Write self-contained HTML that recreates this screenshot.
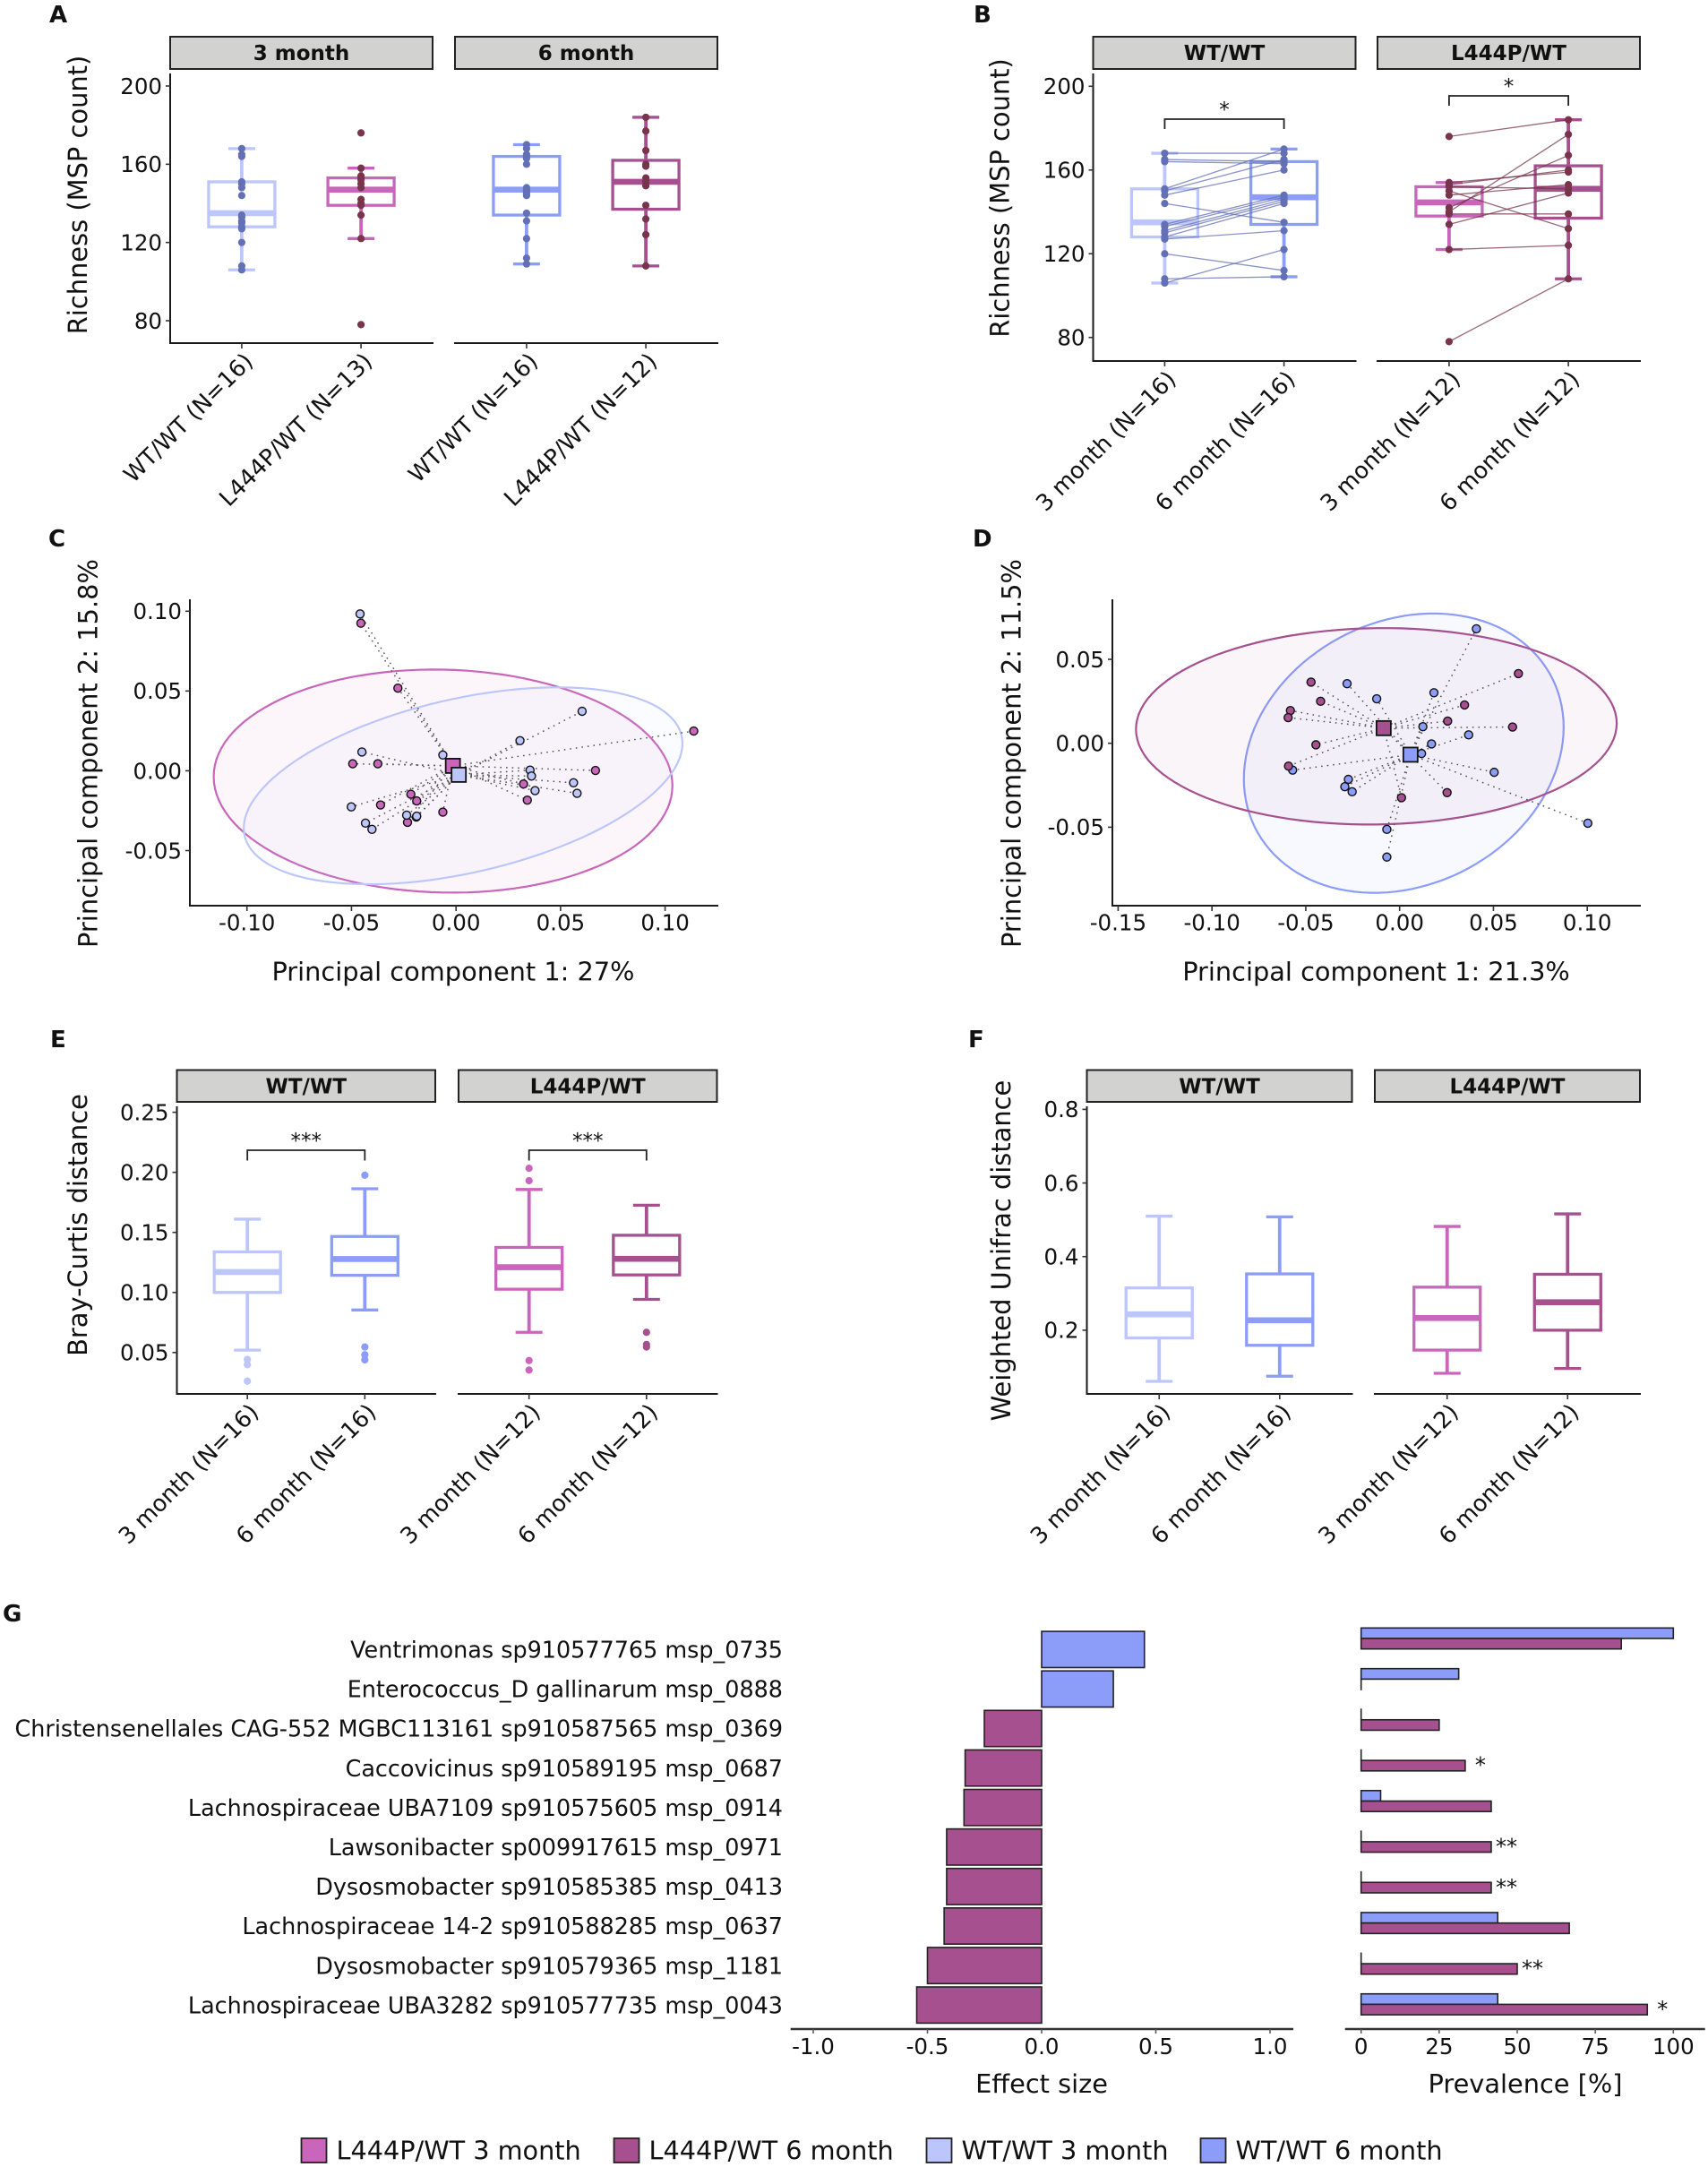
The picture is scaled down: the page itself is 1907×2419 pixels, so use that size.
<!DOCTYPE html>
<html lang="en">
<head>
<meta charset="utf-8">
<title>Gut microbiome richness, beta diversity and differential species</title>
<style>
html,body{margin:0;padding:0;background:#fff;}
svg{display:block;}
text{font-family:"DejaVu Sans","Liberation Sans",sans-serif;fill:#111;}
</style>
</head>
<body>
<svg id="figure" xmlns="http://www.w3.org/2000/svg" width="1907" height="2419" viewBox="0 0 1907 2419">
<rect x="0" y="0" width="1907" height="2419" fill="#ffffff"></rect>
</svg>
<script>
// ---------- shared colours ----------
const colWT3 = '#BDC6FB', colWT6 = '#8C9DF9', colL3 = '#C966BB', colL6 = '#A65090';
const dotWT = '#6470B5', dotL = '#78344A';

// ---------- richness data (panels A, B) ----------
const richnessTicks = [80, 120, 160, 200];
const wt3Richness = [168, 165, 164, 151, 150, 148, 144, 134, 133, 131, 130, 128, 127, 120, 108, 106];
const wt6Richness = [168, 164, 163, 170, 165, 160, 135, 148, 147, 146, 145, 144, 131, 112, 109, 122];
const l3RichnessAll = [176, 158, 154, 153, 152, 150, 148, 142, 140, 139, 134, 122, 78];
const l3RichnessPaired = [176, 154, 153, 152, 150, 148, 142, 140, 139, 134, 122, 78];
const l6Richness = [184, 159, 160, 151, 132, 153, 167, 177, 139, 149, 124, 108];
// boxes: low whisker, q1, median, q3, high whisker
const wt3RichBox = [106, 128, 135, 151, 168];
const wt6RichBox = [109, 134, 147, 164, 170];
const l3RichBoxA = [122, 139, 147, 153, 158];
const l3RichBoxB = [122, 138, 144.5, 152, 154];
const l6RichBox = [108, 137, 151, 162, 184];

// ---------- PCoA data (panels C, D) ----------
const cTicksX = [-0.10, -0.05, 0, 0.05, 0.10];
const cTicksY = [-0.05, 0, 0.05, 0.10];
const cTickLabelsX = ['-0.10', '-0.05', '0.00', '0.05', '0.10'];
const cTickLabelsY = ['-0.05', '0.00', '0.05', '0.10'];
const cWTx = [-0.0459, -0.0450, -0.0063, 0.0306, 0.0603, 0.0354, 0.0361, 0.0378, 0.0562, 0.0579, -0.0501, -0.0433, -0.0402, -0.0236, -0.0190, -0.0188];
const cWTy = [0.0983, 0.0118, 0.0099, 0.0189, 0.0373, 0.0004, -0.0033, -0.0124, -0.0075, -0.0141, -0.0226, -0.0328, -0.0367, -0.0278, -0.0290, -0.0284];
const cLx = [-0.0455, -0.0278, -0.0494, -0.0374, 0.1137, 0.0667, 0.0323, 0.0341, -0.0216, -0.0188, -0.0361, -0.0063, -0.0232];
const cLy = [0.0925, 0.0518, 0.0044, 0.0044, 0.0249, 0.0002, -0.0083, -0.0184, -0.0147, -0.0189, -0.0214, -0.0259, -0.0323];
const cCentroidWT = [0.0013, -0.0025];
const cCentroidL = [-0.0015, 0.0031];
const cEllipseWT = [0.0034, -0.0094, 0.1049, 0.0617, 0.43];
const cEllipseL = [-0.0062, -0.00645, 0.1097, 0.0699, -0.04];

const dTicksX = [-0.15, -0.10, -0.05, 0, 0.05, 0.10];
const dTicksY = [-0.05, 0, 0.05];
const dTickLabelsX = ['-0.15', '-0.10', '-0.05', '0.00', '0.05', '0.10'];
const dTickLabelsY = ['-0.05', '0.00', '0.05'];
const dWTx = [0.0409, -0.0280, -0.0122, 0.0183, 0.0124, 0.0368, 0.0170, 0.0117, 0.0504, 0.1003, -0.0570, -0.0273, -0.0292, -0.0253, -0.0068, -0.0068];
const dWTy = [0.0682, 0.0355, 0.0265, 0.0301, 0.0099, 0.0050, -0.0004, -0.0061, -0.0173, -0.0476, -0.0160, -0.0215, -0.0259, -0.0289, -0.0513, -0.0678];
const dLx = [-0.0472, -0.0421, -0.0582, -0.0594, -0.0446, -0.0592, 0.0633, 0.0346, 0.0256, 0.0602, 0.0253, 0.0010];
const dLy = [0.0364, 0.0250, 0.0195, 0.0153, -0.0009, -0.0136, 0.0415, 0.0228, 0.0132, 0.0097, -0.0294, -0.0324];
const dCentroidWT = [0.0058, -0.0068];
const dCentroidL = [-0.0085, 0.0090];
const dEllipseWT = [0.0022, -0.0059, 0.0852, 0.0832, 0.185];
const dEllipseL = [-0.0124, 0.0101, 0.1281, 0.0585, 0.03];

// ---------- distance data (panels E, F) ----------
const eTicks = [0.05, 0.10, 0.15, 0.20, 0.25];
const eTickLabels = ['0.05', '0.10', '0.15', '0.20', '0.25'];
const eWT3Box = [0.052, 0.100, 0.117, 0.1338, 0.161];
const eWT6Box = [0.0854, 0.1143, 0.1278, 0.1466, 0.1863];
const eL3Box = [0.0668, 0.1027, 0.121, 0.1375, 0.1857];
const eL6Box = [0.0942, 0.1146, 0.128, 0.1476, 0.1726];
const eWT3Out = [0.0442, 0.0399, 0.0262];
const eWT6Out = [0.1976, 0.0546, 0.0482, 0.0439];
const eL3Out = [0.2034, 0.193, 0.0433, 0.0354];
const eL6Out = [0.0668, 0.0567, 0.0546];

const fTicks = [0.2, 0.4, 0.6, 0.8];
const fTickLabels = ['0.2', '0.4', '0.6', '0.8'];
const fWT3Box = [0.061, 0.179, 0.243, 0.315, 0.51];
const fWT6Box = [0.075, 0.159, 0.227, 0.353, 0.508];
const fL3Box = [0.083, 0.146, 0.233, 0.317, 0.482];
const fL6Box = [0.096, 0.2, 0.276, 0.352, 0.516];

// ---------- species data (panel G) ----------
const speciesLabels = [
  'Ventrimonas sp910577765 msp_0735',
  'Enterococcus_D gallinarum msp_0888',
  'Christensenellales CAG-552 MGBC113161 sp910587565 msp_0369',
  'Caccovicinus sp910589195 msp_0687',
  'Lachnospiraceae UBA7109 sp910575605 msp_0914',
  'Lawsonibacter sp009917615 msp_0971',
  'Dysosmobacter sp910585385 msp_0413',
  'Lachnospiraceae 14-2 sp910588285 msp_0637',
  'Dysosmobacter sp910579365 msp_1181',
  'Lachnospiraceae UBA3282 sp910577735 msp_0043'
];
const effectSizes = [0.45, 0.314, -0.251, -0.335, -0.34, -0.416, -0.416, -0.427, -0.5, -0.547];
const prevalenceWT = [100, 31.25, 0, 0, 6.25, 0, 0, 43.75, 0, 43.75];
const prevalenceL = [83.33, 0, 25, 33.33, 41.67, 41.67, 41.67, 66.67, 50, 91.67];
const prevalenceStars = ['', '', '', '*', '', '**', '**', '', '**', '*'];
const effectTicks = [-1, -0.5, 0, 0.5, 1];
const effectTickLabels = ['-1.0', '-0.5', '0.0', '0.5', '1.0'];
const prevalenceTicks = [0, 25, 50, 75, 100];

// ---------- helpers ----------
const NS = 'http://www.w3.org/2000/svg';
const root = document.getElementById('figure');
function mk(tag, attrs, parent) {
  const el = document.createElementNS(NS, tag);
  for (const k in attrs) el.setAttribute(k, attrs[k]);
  (parent || root).appendChild(el);
  return el;
}
function linear(d0, d1, r0, r1) {
  return function (v) { return r0 + (v - d0) * (r1 - r0) / (d1 - d0); };
}
function text(str, x, y, size, attrs, parent) {
  const a = Object.assign({ x: x, y: y, 'font-size': size }, attrs || {});
  const el = mk('text', a, parent);
  el.textContent = str;
  return el;
}
function centeredY(y, size) { return y + size * 0.36; }

function panelLetter(str, x, y) {
  const el = text(str, x, y, 26, { 'font-weight': 'bold', fill: '#000' });
  
  
}
function yTitle(str, x, y) {
  const el = text(str, x, y, 28.9, { 'text-anchor': 'middle', transform: 'rotate(-90 ' + x + ' ' + y + ')', 'dominant-baseline': 'central', fill: '#111' });
  
  
}
function xTitle(str, x, y) {
  const el = text(str, x, y, 28.8, { 'text-anchor': 'middle', 'dominant-baseline': 'central', fill: '#111' });
  
  
}
function yTicks(ticks, labels, yS, axisX) {
  ticks.forEach(function (t, i) {
    const tick = mk('line', { x1: axisX - 5, x2: axisX, y1: yS(t), y2: yS(t), stroke: '#333', 'stroke-width': 1.6 });
    
    
    const lab = text(labels[i], axisX - 9, centeredY(yS(t), 24.5), 24.5, { 'text-anchor': 'end', fill: '#111' });
    
    
  });
}
function axisLine(x1, y1, x2, y2, name) {
  const l = mk('line', { x1: x1, y1: y1, x2: x2, y2: y2, stroke: '#1a1a1a', 'stroke-width': 2, 'stroke-linecap': 'square' });
  
  
}

// draws strip header, x axis, tick labels; returns category x function
function facet(f) {
  const r = mk('rect', { x: f.x0, y: f.stripTop, width: f.x1 - f.x0, height: f.stripBottom - f.stripTop, fill: '#D2D3D1', stroke: '#222', 'stroke-width': 2 });
  
  
  const s = text(f.title, (f.x0 + f.x1) / 2, (f.stripTop + f.stripBottom) / 2 + 8, 23, { 'text-anchor': 'middle', 'font-weight': 'bold', fill: '#000' });
  
  
  axisLine(f.x0, f.axisBottom, f.x1, f.axisBottom, 'x-axis-line');
  const unit = (f.x1 - f.x0) / 2.2;
  const xc = function (i) { return f.x0 + unit * (i + 0.6); };
  f.labels.forEach(function (lab, i) {
    const t = mk('line', { x1: xc(i), x2: xc(i), y1: f.axisBottom, y2: f.axisBottom + 6, stroke: '#333', 'stroke-width': 1.6 });
    
    
    const ax = xc(i) + 14, ay = f.axisBottom + 22;
    const tl = text(lab, ax, ay, 25.5, { 'text-anchor': 'end', transform: 'rotate(-45 ' + ax + ' ' + ay + ')', fill: '#111' });
    
    
  });
  return xc;
}
function boxplot(stats, cx, yS, color, name) {
  const g = mk('g', {});
  
  
  const w = 74, cap = 30, sw = 3.3;
  const low = stats[0], q1 = stats[1], med = stats[2], q3 = stats[3], high = stats[4];
  const wh1 = mk('line', { x1: cx, x2: cx, y1: yS(high), y2: yS(q3), stroke: color, 'stroke-width': 3.8 }, g);
  
  
  const wh2 = mk('line', { x1: cx, x2: cx, y1: yS(q1), y2: yS(low), stroke: color, 'stroke-width': 3.8 }, g);
  
  
  const c1 = mk('line', { x1: cx - cap / 2, x2: cx + cap / 2, y1: yS(high), y2: yS(high), stroke: color, 'stroke-width': sw }, g);
  
  
  const c2 = mk('line', { x1: cx - cap / 2, x2: cx + cap / 2, y1: yS(low), y2: yS(low), stroke: color, 'stroke-width': sw }, g);
  
  
  const b = mk('rect', { x: cx - w / 2, y: yS(q3), width: w, height: yS(q1) - yS(q3), fill: 'none', stroke: color, 'stroke-width': sw }, g);
  
  
  const m = mk('line', { x1: cx - w / 2, x2: cx + w / 2, y1: yS(med), y2: yS(med), stroke: color, 'stroke-width': 6.6 }, g);
  
  
}
function dots(values, cx, yS, color, r, name) {
  values.forEach(function (v) {
    const d = mk('ellipse', { cx: cx, cy: yS(v), rx: r, ry: r, fill: color });
    
    
  });
}
function pairLines(a, b, x0, x1, yS, color, name) {
  a.forEach(function (v, i) {
    const l = mk('line', { x1: x0, x2: x1, y1: yS(v), y2: yS(b[i]), stroke: color, 'stroke-width': 1.3, opacity: 0.75 });
    
    
  });
}
function bracket(x0, x1, yTop, yBot, stars) {
  const p = mk('path', { d: 'M' + x0 + ' ' + yBot + 'V' + yTop + 'H' + x1 + 'V' + yBot, fill: 'none', stroke: '#222', 'stroke-width': 1.8 });
  
  
  const t = text(stars, (x0 + x1) / 2, yTop - 3, 23, { 'text-anchor': 'middle', fill: '#111' });
  
  
}
function ellipsePath(e, xS, yS) {
  const cx = e[0], cy = e[1], rx = e[2], ry = e[3], rho = e[4];
  const q = Math.sqrt(1 - rho * rho);
  let d = '';
  for (let k = 0; k <= 120; k++) {
    const t = k / 120 * 2 * Math.PI;
    const px = xS(cx + rx * Math.cos(t));
    const py = yS(cy + ry * (rho * Math.cos(t) + q * Math.sin(t)));
    d += (k ? 'L' : 'M') + px.toFixed(1) + ' ' + py.toFixed(1);
  }
  return d + 'Z';
}
function pcoa(p) {
  axisLine(p.left, p.top, p.left, p.bottom, 'y-axis-line');
  axisLine(p.left, p.bottom, p.right, p.bottom, 'x-axis-line');
  yTicks(p.ticksY, p.labelsY, p.yS, p.left);
  p.ticksX.forEach(function (t, i) {
    const tk = mk('line', { x1: p.xS(t), x2: p.xS(t), y1: p.bottom, y2: p.bottom + 6, stroke: '#333', 'stroke-width': 1.6 });
    
    
    const l = text(p.labelsX[i], p.xS(t), p.bottom + 19, 24.5, { 'text-anchor': 'middle', 'dominant-baseline': 'central', fill: '#111' });
    
    
  });
  p.groups.forEach(function (g) {
    const e = mk('path', { d: ellipsePath(g.ellipse, p.xS, p.yS), fill: g.color, 'fill-opacity': 0.06, stroke: g.color, 'stroke-width': 2.2 });
    
    
  });
  p.groups.forEach(function (g) {
    g.xs.forEach(function (x, i) {
      const s = mk('line', { x1: p.xS(g.centroid[0]), y1: p.yS(g.centroid[1]), x2: p.xS(x), y2: p.yS(g.ys[i]), stroke: '#555', 'stroke-width': 1.5, 'stroke-dasharray': '1.6 5' });
      
      
    });
  });
  p.groups.forEach(function (g) {
    g.xs.forEach(function (x, i) {
      const c = mk('circle', { cx: p.xS(x), cy: p.yS(g.ys[i]), r: 4.5, fill: g.color, stroke: '#111', 'stroke-width': 1.4 });
      
      
    });
  });
  p.groups.forEach(function (g) {
    const sq = mk('rect', { x: p.xS(g.centroid[0]) - 8, y: p.yS(g.centroid[1]) - 8, width: 16, height: 16, fill: g.color, stroke: '#111', 'stroke-width': 1.8 });
    
    
  });
}

// ---------- panel A ----------
panelLetter('A', 55, 25);
yTitle('Richness (MSP count)', 87, 217.5);
const aY = linear(80, 200, 358, 96);
axisLine(190, 83, 190, 383, 'y-axis-line');
yTicks(richnessTicks, richnessTicks.map(String), aY, 190);
const aF1 = facet({ x0: 190, x1: 483, stripTop: 41, stripBottom: 77, axisBottom: 383, title: '3 month', labels: ['WT/WT (N=16)', 'L444P/WT (N=13)'] });
const aF2 = facet({ x0: 508, x1: 801, stripTop: 41, stripBottom: 77, axisBottom: 383, title: '6 month', labels: ['WT/WT (N=16)', 'L444P/WT (N=12)'] });
boxplot(wt3RichBox, aF1(0), aY, colWT3, 'box-wt-3-month');
boxplot(l3RichBoxA, aF1(1), aY, colL3, 'box-l444p-3-month');
boxplot(wt6RichBox, aF2(0), aY, colWT6, 'box-wt-6-month');
boxplot(l6RichBox, aF2(1), aY, colL6, 'box-l444p-6-month');
dots(wt3Richness, aF1(0), aY, dotWT, 4.1, 'sample-point-wt-3-month');
dots(l3RichnessAll, aF1(1), aY, dotL, 4.1, 'sample-point-l444p-3-month');
dots(wt6Richness, aF2(0), aY, dotWT, 4.1, 'sample-point-wt-6-month');
dots(l6Richness, aF2(1), aY, dotL, 4.1, 'sample-point-l444p-6-month');

// ---------- panel B ----------
panelLetter('B', 1087, 25);
yTitle('Richness (MSP count)', 1116.5, 221);
const bY = linear(80, 200, 376.7, 96.3);
axisLine(1220.5, 83, 1220.5, 403, 'y-axis-line');
yTicks(richnessTicks, richnessTicks.map(String), bY, 1220.5);
const bF1 = facet({ x0: 1220.5, x1: 1513.5, stripTop: 41, stripBottom: 77, axisBottom: 403, title: 'WT/WT', labels: ['3 month (N=16)', '6 month (N=16)'] });
const bF2 = facet({ x0: 1538, x1: 1831, stripTop: 41, stripBottom: 77, axisBottom: 403, title: 'L444P/WT', labels: ['3 month (N=12)', '6 month (N=12)'] });
boxplot(wt3RichBox, bF1(0), bY, colWT3, 'box-wt-3-month');
boxplot(wt6RichBox, bF1(1), bY, colWT6, 'box-wt-6-month');
boxplot(l3RichBoxB, bF2(0), bY, colL3, 'box-l444p-3-month');
boxplot(l6RichBox, bF2(1), bY, colL6, 'box-l444p-6-month');
pairLines(wt3Richness, wt6Richness, bF1(0), bF1(1), bY, dotWT, 'paired-line-wt');
pairLines(l3RichnessPaired, l6Richness, bF2(0), bF2(1), bY, dotL, 'paired-line-l444p');
dots(wt3Richness, bF1(0), bY, dotWT, 4.1, 'sample-point-wt-3-month');
dots(wt6Richness, bF1(1), bY, dotWT, 4.1, 'sample-point-wt-6-month');
dots(l3RichnessPaired, bF2(0), bY, dotL, 4.1, 'sample-point-l444p-3-month');
dots(l6Richness, bF2(1), bY, dotL, 4.1, 'sample-point-l444p-6-month');
bracket(bF1(0), bF1(1), 133, 144, '*');
bracket(bF2(0), bF2(1), 107, 118, '*');

// ---------- panel C ----------
panelLetter('C', 54, 610);
yTitle('Principal component 2: 15.8%', 98.5, 841);
xTitle('Principal component 1: 27%', 506, 1084.5);
pcoa({
  left: 212, right: 801, top: 670, bottom: 1011,
  xS: linear(-0.10, 0.10, 275.7, 742.6), yS: linear(-0.05, 0.10, 949.5, 682.3),
  ticksX: cTicksX, ticksY: cTicksY, labelsX: cTickLabelsX, labelsY: cTickLabelsY,
  groups: [
    { name: 'l444p-3-month', color: colL3, xs: cLx, ys: cLy, centroid: cCentroidL, ellipse: cEllipseL },
    { name: 'wt-3-month', color: colWT3, xs: cWTx, ys: cWTy, centroid: cCentroidWT, ellipse: cEllipseWT }
  ]
});

// ---------- panel D ----------
panelLetter('D', 1086, 610);
yTitle('Principal component 2: 11.5%', 1129.5, 841);
xTitle('Principal component 1: 21.3%', 1536.5, 1084.5);
pcoa({
  left: 1242, right: 1831, top: 670, bottom: 1011,
  xS: linear(-0.15, 0.10, 1248.4, 1772.2), yS: linear(-0.05, 0.05, 923.4, 736),
  ticksX: dTicksX, ticksY: dTicksY, labelsX: dTickLabelsX, labelsY: dTickLabelsY,
  groups: [
    { name: 'wt-6-month', color: colWT6, xs: dWTx, ys: dWTy, centroid: dCentroidWT, ellipse: dEllipseWT },
    { name: 'l444p-6-month', color: colL6, xs: dLx, ys: dLy, centroid: dCentroidL, ellipse: dEllipseL }
  ]
});

// ---------- panel E ----------
panelLetter('E', 56, 1169);
yTitle('Bray-Curtis distance', 87, 1367.5);
const eY = linear(0.05, 0.25, 1509.8, 1241.6);
axisLine(197.5, 1236, 197.5, 1556, 'y-axis-line');
yTicks(eTicks, eTickLabels, eY, 197.5);
const eF1 = facet({ x0: 197.5, x1: 486, stripTop: 1194.5, stripBottom: 1230, axisBottom: 1556, title: 'WT/WT', labels: ['3 month (N=16)', '6 month (N=16)'] });
const eF2 = facet({ x0: 512, x1: 800.5, stripTop: 1194.5, stripBottom: 1230, axisBottom: 1556, title: 'L444P/WT', labels: ['3 month (N=12)', '6 month (N=12)'] });
boxplot(eWT3Box, eF1(0), eY, colWT3, 'box-wt-3-month');
boxplot(eWT6Box, eF1(1), eY, colWT6, 'box-wt-6-month');
boxplot(eL3Box, eF2(0), eY, colL3, 'box-l444p-3-month');
boxplot(eL6Box, eF2(1), eY, colL6, 'box-l444p-6-month');
dots(eWT3Out, eF1(0), eY, colWT3, 4.1, 'outlier-wt-3-month');
dots(eWT6Out, eF1(1), eY, colWT6, 4.1, 'outlier-wt-6-month');
dots(eL3Out, eF2(0), eY, colL3, 4.1, 'outlier-l444p-3-month');
dots(eL6Out, eF2(1), eY, colL6, 4.1, 'outlier-l444p-6-month');
bracket(eF1(0), eF1(1), 1284, 1295.5, '***');
bracket(eF2(0), eF2(1), 1284, 1295.5, '***');

// ---------- panel F ----------
panelLetter('F', 1081, 1169);
yTitle('Weighted Unifrac distance', 1118, 1396);
const fY = linear(0.2, 0.8, 1484.9, 1238.4);
axisLine(1213.5, 1236, 1213.5, 1556, 'y-axis-line');
yTicks(fTicks, fTickLabels, fY, 1213.5);
const fF1 = facet({ x0: 1213.5, x1: 1509.5, stripTop: 1194.5, stripBottom: 1230, axisBottom: 1556, title: 'WT/WT', labels: ['3 month (N=16)', '6 month (N=16)'] });
const fF2 = facet({ x0: 1535, x1: 1831, stripTop: 1194.5, stripBottom: 1230, axisBottom: 1556, title: 'L444P/WT', labels: ['3 month (N=12)', '6 month (N=12)'] });
boxplot(fWT3Box, fF1(0), fY, colWT3, 'box-wt-3-month');
boxplot(fWT6Box, fF1(1), fY, colWT6, 'box-wt-6-month');
boxplot(fL3Box, fF2(0), fY, colL3, 'box-l444p-3-month');
boxplot(fL6Box, fF2(1), fY, colL6, 'box-l444p-6-month');

// ---------- panel G ----------
panelLetter('G', 3, 1810);
const effectX = linear(-1, 1, 908, 1418);
const prevX = linear(0, 100, 1519.7, 1868.3);
const effectRowY = function (i) { return 1841.3 + i * 44.1; };
const prevRowY = function (i) { return 1829 + i * 45.38; };
const gAxisY = 2265;

speciesLabels.forEach(function (s, i) {
  const t = text(s, 874, centeredY(effectRowY(i), 25.45), 25.45, { 'text-anchor': 'end', fill: '#111' });
  
  
});
effectSizes.forEach(function (v, i) {
  const x0 = Math.min(effectX(0), effectX(v));
  const w = Math.abs(effectX(v) - effectX(0));
  const b = mk('rect', { x: x0, y: effectRowY(i) - 20.2, width: w, height: 40.4, fill: v > 0 ? colWT6 : colL6, stroke: '#222', 'stroke-width': 1.6 });
  
  
});
const gEffAxis = mk('line', { x1: 882.7, x2: 1444, y1: gAxisY, y2: gAxisY, stroke: '#333', 'stroke-width': 2.4 });


effectTicks.forEach(function (t, i) {
  const tk = mk('line', { x1: effectX(t), x2: effectX(t), y1: gAxisY, y2: gAxisY + 5, stroke: '#555', 'stroke-width': 1.5 });
  
  
  const l = text(effectTickLabels[i], effectX(t), 2284.5, 24.5, { 'text-anchor': 'middle', 'dominant-baseline': 'central', fill: '#111' });
  
  
});
xTitle('Effect size', 1163, 2326);

prevalenceWT.forEach(function (v, i) {
  const b = mk('rect', { x: prevX(0), y: prevRowY(i) - 11.7, width: Math.max(0.01, prevX(v) - prevX(0)), height: 11.7, fill: colWT6, stroke: '#222', 'stroke-width': 1.6 });
  
  
});
prevalenceL.forEach(function (v, i) {
  const b = mk('rect', { x: prevX(0), y: prevRowY(i), width: Math.max(0.01, prevX(v) - prevX(0)), height: 11.7, fill: colL6, stroke: '#222', 'stroke-width': 1.6 });
  
  
});
prevalenceStars.forEach(function (s, i) {
  if (!s) return;
  const t = text(s, prevX(prevalenceL[i]) + 17, prevRowY(i) + 13.5, 24, { 'text-anchor': 'middle', fill: '#111' });
  
  
});
const gPrevAxis = mk('line', { x1: 1501.7, x2: 1903.7, y1: gAxisY, y2: gAxisY, stroke: '#333', 'stroke-width': 2.4 });


prevalenceTicks.forEach(function (t) {
  const tk = mk('line', { x1: prevX(t), x2: prevX(t), y1: gAxisY, y2: gAxisY + 5, stroke: '#555', 'stroke-width': 1.5 });
  
  
  const l = text(String(t), prevX(t), 2284.5, 24.5, { 'text-anchor': 'middle', 'dominant-baseline': 'central', fill: '#111' });
  
  
});
xTitle('Prevalence [%]', 1703, 2326);

// ---------- legend ----------
const legendEntries = ['L444P/WT 3 month', 'L444P/WT 6 month', 'WT/WT 3 month', 'WT/WT 6 month'];
const legendColors = [colL3, colL6, colWT3, colWT6];
const legendSwatchLeft = [336.5, 685.5, 1034.5, 1340.5];
legendEntries.forEach(function (lab, i) {
  const sw = mk('rect', { x: legendSwatchLeft[i], y: 2387, width: 28, height: 27, fill: legendColors[i], stroke: '#222', 'stroke-width': 1.8 });
  
  
  const t = text(lab, legendSwatchLeft[i] + 39, 2400.5, 28.7, { 'dominant-baseline': 'central', fill: '#111' });
  
  
});
</script>
</body>
</html>
